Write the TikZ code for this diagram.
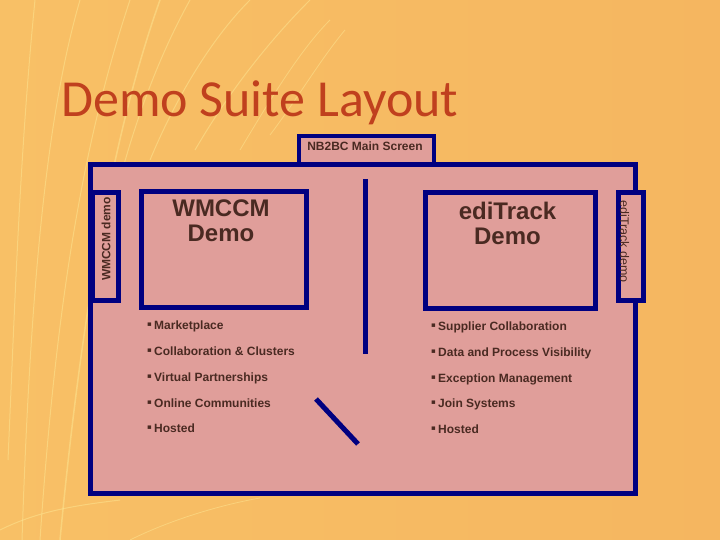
\documentclass[tikz,border=0pt]{standalone}
\usepackage{fontspec}
\setmainfont{Liberation Sans}
\newfontfamily\titlefont{Carlito}
\newfontfamily\symfont{DejaVu Sans}
\definecolor{bgleft}{HTML}{F8C066}
\definecolor{bgright}{HTML}{F5B660}
\definecolor{pinkfill}{HTML}{E09E9A}
\definecolor{navyc}{HTML}{000080}
\definecolor{browntxt}{HTML}{4A2A22}
\definecolor{titlered}{HTML}{C0401E}
\definecolor{streak}{HTML}{FDE490}
\newcommand{\bul}{\makebox[7pt][l]{\raisebox{2.2pt}{\symfont\fontsize{7}{7}\selectfont ▪}}}
\tikzset{
  panel/.style={draw=navyc, line width=5pt, fill=pinkfill, inner sep=0pt, anchor=north west},
  tabbox/.style={draw=navyc, line width=4pt, fill=pinkfill, inner sep=0pt, anchor=north west},
  navyline/.style={draw=navyc, line width=5pt},
  boxtitle/.style={text=browntxt, font=\bfseries\fontsize{24}{25}\selectfont, align=center, inner sep=0pt, anchor=north},
  item/.style={text=browntxt, font=\bfseries\fontsize{12}{14}\selectfont, inner sep=0pt, anchor=base west},
  sidetxt/.style={text=browntxt, inner sep=0pt},
  streakline/.style={draw=streak, line width=1pt, opacity=0.55}
}
\begin{document}
\begin{tikzpicture}[x=1pt,y=-1pt]
\useasboundingbox (0,0) rectangle (720,540);
% background
\shade[left color=bgleft, right color=bgright] (0,0) rectangle (720,540);
\draw[streakline] (22,540) .. controls (30,300) and (45,120) .. (80,0);
\draw[streakline] (40,540) .. controls (55,320) and (80,150) .. (130,0);
\draw[streakline, line width=1.5pt] (60,540) .. controls (80,330) and (110,140) .. (160,0);
\draw[streakline] (8,460) .. controls (15,300) and (20,150) .. (35,0);
\draw[streakline] (95,300) .. controls (110,200) and (140,90) .. (190,0);
\draw[streakline] (150,160) .. controls (175,100) and (210,40) .. (250,0);
\draw[streakline] (195,150) .. controls (230,90) and (270,40) .. (310,0);
\draw[streakline, line width=0.8pt] (240,150) .. controls (270,100) and (300,50) .. (330,20);
\draw[streakline, line width=0.8pt] (270,135) .. controls (300,95) and (320,60) .. (345,30);
\draw[streakline] (0,530) .. controls (40,510) and (80,505) .. (120,500);
\draw[streakline, line width=0.8pt] (130,540) .. controls (170,520) and (220,505) .. (260,498);
% title
\node[text=titlered, font=\titlefont\fontsize{52}{60}\selectfont, inner sep=0pt, anchor=base west] (title) at (61,117) {Demo Suite Layout};
% main screen tab and box
\node[tabbox, minimum width=135pt, minimum height=29pt] (maintab) at (297,134) {};
\node[text=browntxt, font=\bfseries\fontsize{12}{14}\selectfont, inner sep=0pt, anchor=base] (maintabtxt) at (365,151) {NB2BC Main Screen};
\node[panel, minimum width=545pt, minimum height=328pt] (main) at (87.5,162.5) {};
% side tabs
\node[panel, minimum width=26pt, minimum height=107pt] (wmtab) at (89.5,190.5) {};
\node[sidetxt, rotate=90, font=\bfseries\fontsize{12}{14}\selectfont] (wmtabtxt) at (106,239) {WMCCM demo};
\node[panel, minimum width=25pt, minimum height=107pt] (edtab) at (615.5,190.5) {};
\node[sidetxt, rotate=-90, font=\fontsize{12.5}{14}\selectfont] (edtabtxt) at (624.5,241.5) {ediTrack demo};
% demo boxes
\node[panel, minimum width=165pt, minimum height=115pt] (wm) at (138.5,189.5) {};
\node[boxtitle] (wmtitle) at (221,200) {WMCCM\\Demo};
\node[panel, minimum width=170pt, minimum height=115pt] (ed) at (422.5,190.5) {};
\node[boxtitle] (edtitle) at (507.5,202) {ediTrack\\Demo};
% separators
\coordinate (v1) at (365,179);
\coordinate (v2) at (365,354);
\draw[navyline] (v1) -- (v2);
\coordinate (d1) at (316,399);
\coordinate (d2) at (358,444);
\draw[navyline] (d1) -- (d2);
% left list
\node[item] (l1) at (147,329) {\bul Marketplace};
\node[item] (l2) at (147,355) {\bul Collaboration \& Clusters};
\node[item] (l3) at (147,381) {\bul Virtual Partnerships};
\node[item] (l4) at (147,407) {\bul Online Communities};
\node[item] (l5) at (147,432) {\bul Hosted};
% right list
\node[item] (r1) at (431,330) {\bul Supplier Collaboration};
\node[item] (r2) at (431,356) {\bul Data and Process Visibility};
\node[item] (r3) at (431,382) {\bul Exception Management};
\node[item] (r4) at (431,407) {\bul Join Systems};
\node[item] (r5) at (431,433) {\bul Hosted};
\end{tikzpicture}
\end{document}
